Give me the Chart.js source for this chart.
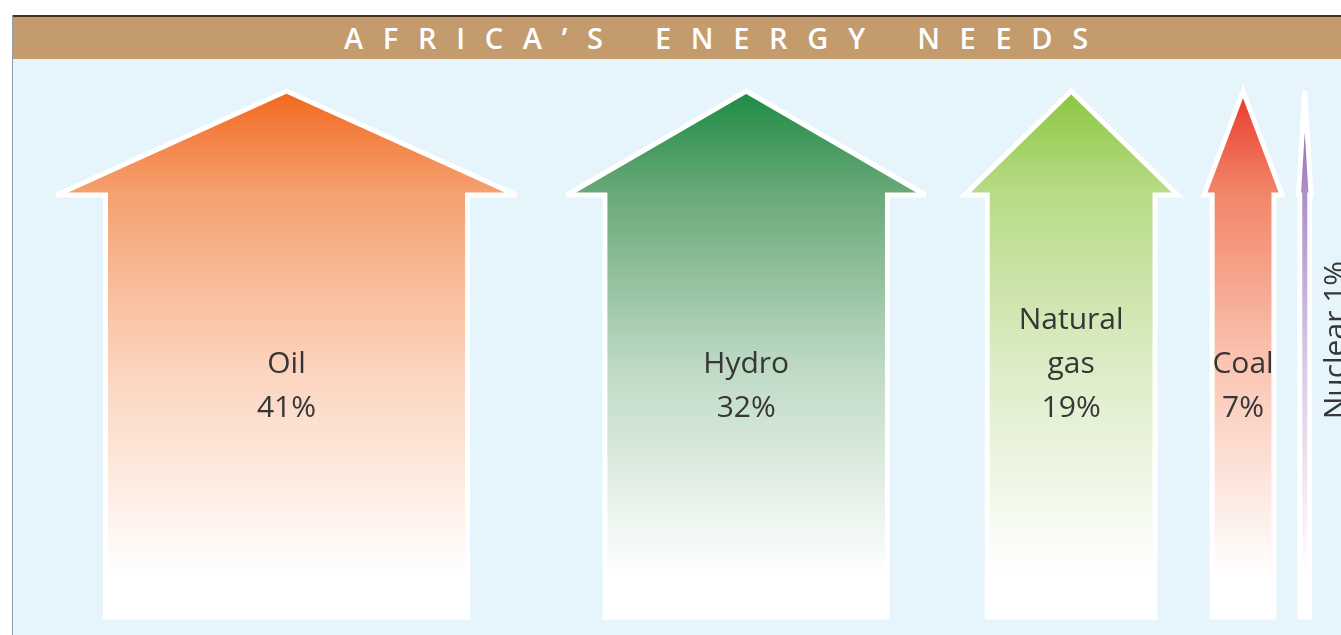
<!DOCTYPE html>
<html>
<head>
<meta charset="utf-8">
<script src="https://cdn.jsdelivr.net/npm/chart.js@4/dist/chart.umd.min.js"></script>
<style>
  html, body { margin:0; padding:0; background:#ffffff; width:1341px; height:635px; overflow:hidden; }
  #panel { position:absolute; left:12px; top:15px; width:1329px; height:620px; background:#e6f5fc; border-left:1px solid #8f9ca8; }
  #header { position:absolute; left:0; top:0; width:1329px; height:42px; background:#c49b6d; border-top:2px solid #4a3222; }
  #title { position:absolute; left:331px; top:0; height:42px; line-height:42px; color:#ffffff;
           font-family:"Open Sans", sans-serif; font-weight:600; font-size:29px; letter-spacing:19.7px; word-spacing:5px; white-space:nowrap; }
  #wrap { position:absolute; left:0; top:44px; width:1328px; height:576px; }
</style>
</head>
<body>
<div id="panel">
  <div id="header"><div id="title">AFRICA’S ENERGY NEEDS</div></div>
  <div id="wrap"><canvas id="c" width="1328" height="576"></canvas></div>
</div>
<script>
// ---- data ----
const categories = ['Oil', 'Hydro', 'Natural gas', 'Coal', 'Nuclear'];
const shares = [41, 32, 19, 7, 1];           // % of energy needs (arrow width)
const valueLabels = ['41%', '32%', '19%', '7%', '1%'];

// ---- styles ----
const topColors   = ['#f1691f', '#1d8b44', '#8cc63f', '#e8392b', '#8d62ad'];
const midColors   = ['#f5a06f', '#68a878', '#b7db86', '#f28468', '#ab8ec6'];
const lightColors = ['#fbd3bc', '#bdd9c3', '#dcecc6', '#fac5b2', '#d8cbe6'];
const labelColor = '#363636';

// ---- layout constants (scale units) ----
const HEAD_RATIO = 1.27;       // head width / body width
const GAP_BASE = 1.44, GAP_SLOPE = 0.0584;
const X_MIN = -4.94, X_MAX = X_MIN + 1328 / 8.83;
const ARROW_BOTTOM = 3.125, ARROW_TOP = 94.44, HEAD_BASE = 76.39, LABEL_Y = 39.4;
const MIN_BODY_PX = 10;

// centres computed from the shares
const centers = [];
(function () {
  let cursor = 0;
  shares.forEach((v, i) => {
    const half = HEAD_RATIO * v / 2;
    const c = cursor + half;
    centers.push(c);
    const next = shares[i + 1] || 0;
    cursor = c + half + GAP_BASE + GAP_SLOPE * (v + next);
  });
})();

const arrowPlugin = {
  id: 'arrows',
  afterDatasetsDraw(chart) {
    const ctx = chart.ctx;
    const xs = chart.scales.x, ys = chart.scales.y;
    const meta = chart.getDatasetMeta(0);
    meta.data.forEach((el, i) => {
      const v = shares[i];
      const cx = el.x, top = el.y, bottom = el.base;
      const bodyW = xs.getPixelForValue(centers[i] + v / 2) - xs.getPixelForValue(centers[i] - v / 2);
      const halfBody = Math.max(bodyW, MIN_BODY_PX) / 2;
      const halfHead = halfBody * HEAD_RATIO;
      const hb = ys.getPixelForValue(HEAD_BASE);
      ctx.save();
      ctx.beginPath();
      ctx.moveTo(cx, top);
      ctx.lineTo(cx + halfHead, hb);
      ctx.lineTo(cx + halfBody, hb);
      ctx.lineTo(cx + halfBody, bottom);
      ctx.lineTo(cx - halfBody, bottom);
      ctx.lineTo(cx - halfBody, hb);
      ctx.lineTo(cx - halfHead, hb);
      ctx.closePath();
      const grad = ctx.createLinearGradient(0, top, 0, bottom);
      grad.addColorStop(0, topColors[i]);
      grad.addColorStop(0.19, midColors[i]);
      grad.addColorStop(0.52, lightColors[i]);
      grad.addColorStop(0.92, '#ffffff');
      grad.addColorStop(1, '#ffffff');
      ctx.fillStyle = grad;
      ctx.fill();
      ctx.lineJoin = 'miter';
      ctx.miterLimit = 3;
      ctx.lineWidth = 5;
      ctx.strokeStyle = '#ffffff';
      ctx.stroke();
      ctx.restore();

      // labels
      ctx.save();
      ctx.fillStyle = labelColor;
      ctx.font = '30px "Open Sans", sans-serif';
      if (bodyW < 30) {
        ctx.translate(cx + halfBody + 35, ys.getPixelForValue(51.2));
        ctx.rotate(-Math.PI / 2);
        ctx.textAlign = 'center';
        ctx.textBaseline = 'alphabetic';
        ctx.fillText(categories[i] + ' ' + valueLabels[i], 0, 0);
      } else {
        let lines = [categories[i]];
        if (categories[i].includes(' ') && ctx.measureText(categories[i]).width > 0.75 * bodyW) {
          lines = categories[i].split(' ');
        }
        lines.push(valueLabels[i]);
        ctx.textAlign = 'center';
        ctx.textBaseline = 'middle';
        const yLast = ys.getPixelForValue(LABEL_Y);
        lines.forEach((t, k) => {
          ctx.fillText(t, cx, yLast - (lines.length - 1 - k) * 44);
        });
      }
      ctx.restore();
    });
  }
};

new Chart(document.getElementById('c'), {
  type: 'bar',
  data: {
    datasets: [{
      data: shares.map((v, i) => ({ x: centers[i], y: [ARROW_BOTTOM, ARROW_TOP] })),
      backgroundColor: 'rgba(0,0,0,0)',
      borderWidth: 0
    }]
  },
  options: {
    responsive: false,
    animation: false,
    devicePixelRatio: 1,
    events: [],
    layout: { padding: 0 },
    plugins: { legend: { display: false }, tooltip: { enabled: false }, title: { display: false } },
    scales: {
      x: { type: 'linear', min: X_MIN, max: X_MAX, offset: false, display: false },
      y: { type: 'linear', min: 0, max: 100, display: false }
    }
  },
  plugins: [arrowPlugin]
});
</script>
</body>
</html>
